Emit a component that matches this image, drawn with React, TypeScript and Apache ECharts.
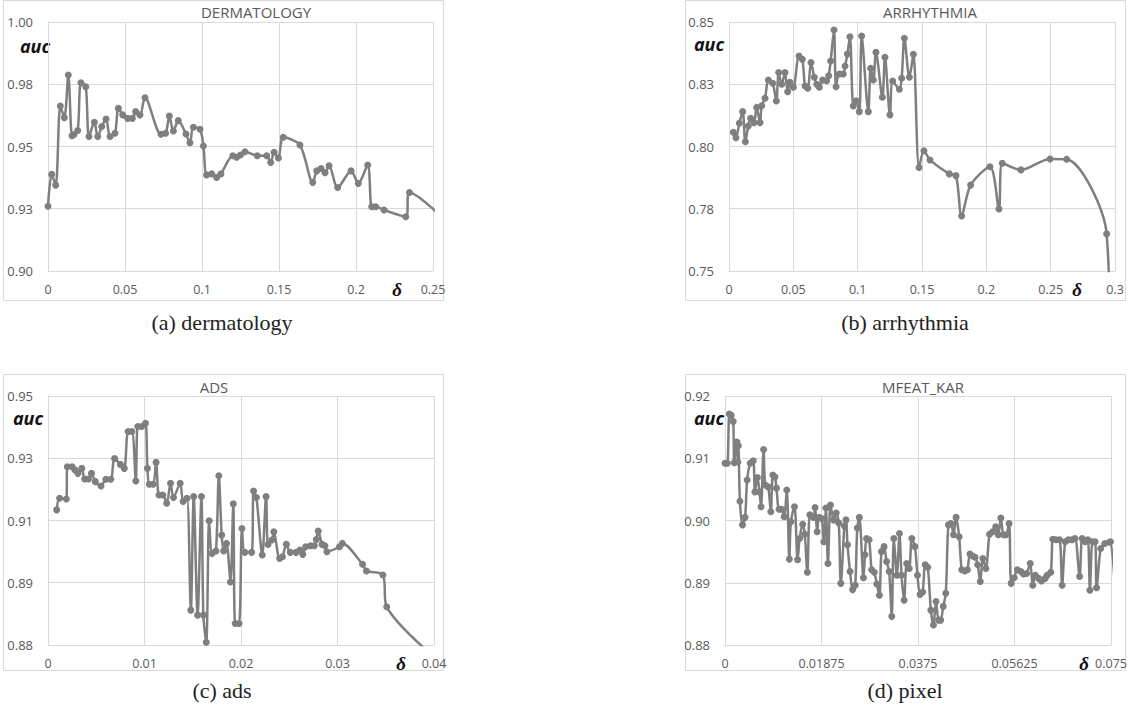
import { useEffect, useRef } from "react";
import * as echarts from "echarts";

// ---------- data: [delta, auc] ----------
const dermatology: [number, number][] = [
  [0, 0.926], [0.0024, 0.9388], [0.005, 0.9345], [0.008, 0.9663], [0.0106, 0.9616],
  [0.0132, 0.9787], [0.0156, 0.9543], [0.0169, 0.9548], [0.0193, 0.9564], [0.0214, 0.9756],
  [0.0245, 0.974], [0.0266, 0.954], [0.0301, 0.9597], [0.0323, 0.954], [0.0349, 0.958],
  [0.0377, 0.961], [0.0403, 0.954], [0.0435, 0.9553], [0.0457, 0.9653], [0.0485, 0.9627],
  [0.0517, 0.9613], [0.0548, 0.9613], [0.0569, 0.964], [0.0597, 0.9627], [0.063, 0.9696],
  [0.0734, 0.9549], [0.0764, 0.9553], [0.0788, 0.9622], [0.0814, 0.9562], [0.0846, 0.9604],
  [0.0896, 0.955], [0.0922, 0.9515], [0.0944, 0.9577], [0.0987, 0.9569], [0.1009, 0.9502],
  [0.103, 0.9386], [0.1063, 0.939], [0.1095, 0.9376], [0.1123, 0.939], [0.12, 0.9463],
  [0.1225, 0.9457], [0.125, 0.9466], [0.1279, 0.9479], [0.1359, 0.9463], [0.142, 0.9463],
  [0.1446, 0.9436], [0.1468, 0.9477], [0.1496, 0.9454], [0.1528, 0.9537], [0.1636, 0.9506],
  [0.1719, 0.9356], [0.1745, 0.9402], [0.1773, 0.9412], [0.1799, 0.9395], [0.1825, 0.9423],
  [0.1881, 0.9335], [0.1968, 0.9402], [0.2015, 0.9352], [0.2076, 0.9426], [0.2102, 0.9258],
  [0.2128, 0.9258], [0.2182, 0.9245], [0.2323, 0.9218], [0.2347, 0.9315], [0.262, 0.918],
];

const arrhythmia: [number, number][] = [
  [0.0034, 0.8057], [0.0054, 0.8035], [0.008, 0.8093], [0.0106, 0.814], [0.0127, 0.8019],
  [0.015, 0.8082], [0.0168, 0.8113], [0.0194, 0.8096], [0.0215, 0.8157], [0.0241, 0.8096],
  [0.0254, 0.8164], [0.028, 0.8194], [0.0306, 0.8267], [0.034, 0.8254], [0.0368, 0.8183],
  [0.0386, 0.8297], [0.041, 0.825], [0.0435, 0.8297], [0.0456, 0.822], [0.0474, 0.8258],
  [0.05, 0.8238], [0.0544, 0.8363], [0.057, 0.835], [0.0591, 0.8243], [0.0612, 0.8234],
  [0.0637, 0.8337], [0.0663, 0.8278], [0.0682, 0.825], [0.0702, 0.8238], [0.0728, 0.8267],
  [0.0759, 0.8264], [0.0775, 0.8284], [0.079, 0.8343], [0.0816, 0.8468], [0.0832, 0.824],
  [0.0857, 0.8291], [0.0888, 0.8291], [0.0902, 0.8323], [0.092, 0.8371], [0.094, 0.8441],
  [0.0966, 0.8163], [0.0988, 0.8184], [0.1013, 0.814], [0.1031, 0.8444], [0.1083, 0.814],
  [0.1101, 0.8314], [0.1122, 0.8267], [0.1142, 0.8378], [0.1192, 0.8198], [0.1212, 0.8358],
  [0.1251, 0.8127], [0.1272, 0.8263], [0.1324, 0.823], [0.1342, 0.8274], [0.1363, 0.8435],
  [0.1402, 0.8278], [0.1433, 0.837], [0.1477, 0.7916], [0.1515, 0.7983], [0.1562, 0.7946],
  [0.1712, 0.789], [0.1764, 0.7883], [0.1808, 0.7721], [0.1878, 0.7845], [0.2028, 0.7919],
  [0.2098, 0.7749], [0.2124, 0.7933], [0.2269, 0.7906], [0.2495, 0.795], [0.2624, 0.7949],
  [0.2935, 0.7649], [0.2965, 0.7],
];

const ads: [number, number][] = [
  [0.0009, 0.9157], [0.0012, 0.9192], [0.0019, 0.919], [0.002, 0.9287], [0.0025, 0.9287],
  [0.0028, 0.9277], [0.0031, 0.9267], [0.0035, 0.9282], [0.0038, 0.925], [0.0042, 0.925],
  [0.0045, 0.9267], [0.0049, 0.9242], [0.0055, 0.9229], [0.006, 0.9249], [0.0065, 0.9249],
  [0.0069, 0.9312], [0.0075, 0.9294], [0.0079, 0.9282], [0.0083, 0.9393], [0.0087, 0.9393],
  [0.0091, 0.9244], [0.0093, 0.9408], [0.0097, 0.9408], [0.0101, 0.9418], [0.0103, 0.9282],
  [0.0105, 0.9234], [0.0109, 0.9234], [0.0112, 0.93], [0.0115, 0.9202], [0.0119, 0.9202],
  [0.0123, 0.9177], [0.0127, 0.9237], [0.013, 0.9194], [0.0137, 0.9237], [0.014, 0.9182],
  [0.0144, 0.9192], [0.0148, 0.8855], [0.0151, 0.9197], [0.0155, 0.884], [0.0159, 0.9197],
  [0.0161, 0.884], [0.0164, 0.8758], [0.0167, 0.9124], [0.017, 0.9026], [0.0174, 0.9033],
  [0.0177, 0.926], [0.018, 0.9081], [0.0182, 0.9033], [0.0185, 0.9056], [0.0189, 0.894],
  [0.0192, 0.9175], [0.0194, 0.8815], [0.0198, 0.8815], [0.0201, 0.9101], [0.0204, 0.9029],
  [0.0211, 0.9029], [0.0213, 0.9214], [0.0216, 0.9194], [0.0222, 0.9021], [0.0226, 0.9197],
  [0.0228, 0.9053], [0.0232, 0.9066], [0.0234, 0.9091], [0.024, 0.9011], [0.0243, 0.9016],
  [0.0247, 0.9053], [0.0251, 0.9029], [0.0257, 0.9029], [0.0261, 0.9036], [0.0264, 0.9023],
  [0.0267, 0.9046], [0.0272, 0.9049], [0.0276, 0.9049], [0.0278, 0.9068], [0.028, 0.9093],
  [0.0284, 0.9053], [0.0287, 0.9049], [0.0289, 0.9031], [0.0302, 0.9046], [0.0305, 0.9056],
  [0.0326, 0.8993], [0.033, 0.8973], [0.0347, 0.8961], [0.0351, 0.8865], [0.042, 0.8665],
];

const pixel: [number, number][] = [
  [0, 0.9092], [0.00045, 0.9092], [0.00084, 0.9171], [0.0012, 0.9169], [0.0016, 0.9159],
  [0.0018, 0.9093], [0.0023, 0.9126], [0.0025, 0.9094], [0.0026, 0.912], [0.0029, 0.9031],
  [0.0034, 0.8993], [0.0039, 0.9005], [0.0043, 0.9065], [0.0049, 0.9092], [0.0055, 0.9096],
  [0.0058, 0.9046], [0.0063, 0.9069], [0.0067, 0.9046], [0.007, 0.9022], [0.0075, 0.9114],
  [0.0078, 0.9057], [0.0084, 0.9054], [0.0089, 0.9014], [0.0093, 0.9073], [0.0097, 0.907],
  [0.01, 0.9052], [0.0105, 0.9018], [0.011, 0.9018], [0.0115, 0.9006], [0.012, 0.9049],
  [0.0125, 0.8938], [0.0128, 0.8998], [0.0135, 0.9022], [0.0141, 0.8937], [0.0145, 0.8971],
  [0.0151, 0.8994], [0.0155, 0.8978], [0.016, 0.8917], [0.0165, 0.9009], [0.0172, 0.9005],
  [0.0175, 0.9021], [0.0179, 0.8982], [0.0183, 0.9005], [0.0188, 0.9003], [0.0192, 0.8966],
  [0.0196, 0.902], [0.02, 0.8931], [0.0205, 0.9025], [0.0211, 0.9001], [0.0216, 0.9012],
  [0.0221, 0.8996], [0.0225, 0.8899], [0.0232, 0.8991], [0.0235, 0.9001], [0.0238, 0.8961],
  [0.0243, 0.8918], [0.0248, 0.8889], [0.0253, 0.8896], [0.0257, 0.8988], [0.0261, 0.9005],
  [0.0269, 0.8908], [0.0272, 0.8945], [0.0275, 0.8971], [0.028, 0.8969], [0.0285, 0.8921],
  [0.029, 0.8917], [0.0295, 0.8898], [0.03, 0.888], [0.0304, 0.895], [0.0309, 0.8958],
  [0.0314, 0.8934], [0.0319, 0.8918], [0.0324, 0.8846], [0.0328, 0.8971], [0.0334, 0.8912],
  [0.0339, 0.8979], [0.0343, 0.8912], [0.0348, 0.8872], [0.0353, 0.8931], [0.0358, 0.8923],
  [0.0363, 0.8971], [0.0369, 0.8958], [0.0374, 0.8912], [0.0379, 0.8881], [0.0384, 0.8885],
  [0.0389, 0.8929], [0.0394, 0.8925], [0.04, 0.8856], [0.0405, 0.8832], [0.041, 0.887],
  [0.0415, 0.884], [0.0419, 0.884], [0.0424, 0.8862], [0.0429, 0.8883], [0.0434, 0.8993],
  [0.0439, 0.8995], [0.0444, 0.8977], [0.0449, 0.9005], [0.0455, 0.8974], [0.046, 0.8921],
  [0.0466, 0.8919], [0.0471, 0.8921], [0.0476, 0.8946], [0.0481, 0.8943], [0.0486, 0.8941],
  [0.0491, 0.8929], [0.0496, 0.8902], [0.0501, 0.8939], [0.0507, 0.8923], [0.0514, 0.8978],
  [0.052, 0.8982], [0.0526, 0.899], [0.0531, 0.8977], [0.0536, 0.9004], [0.0541, 0.8977],
  [0.0546, 0.8977], [0.0552, 0.8995], [0.0556, 0.8899], [0.0562, 0.8908], [0.0568, 0.8921],
  [0.0575, 0.8918], [0.058, 0.8914], [0.0586, 0.8915], [0.0593, 0.8931], [0.0598, 0.8896],
  [0.0603, 0.8912], [0.0609, 0.8907], [0.0615, 0.8903], [0.0622, 0.8907], [0.0626, 0.8912],
  [0.0633, 0.8917], [0.0637, 0.897], [0.0643, 0.8969], [0.065, 0.8969], [0.0655, 0.8896],
  [0.0661, 0.8966], [0.0667, 0.8969], [0.0674, 0.8969], [0.068, 0.8971], [0.0689, 0.891],
  [0.0694, 0.8971], [0.07, 0.8966], [0.0705, 0.8969], [0.0709, 0.8888], [0.0714, 0.8966],
  [0.0719, 0.8966], [0.0722, 0.8892], [0.073, 0.8955], [0.0738, 0.8963], [0.0747, 0.8965],
  [0.0749, 0.8966], [0.0758, 0.889],
];

const seriesData = [dermatology, arrhythmia, ads, pixel];
const panelTitles = ["DERMATOLOGY", "ARRHYTHMIA", "ADS", "MFEAT_KAR"];
const captions = ["(a) dermatology", "(b) arrhythmia", "(c) ads", "(d) pixel"];
// [min, max, interval]
const xScales: [number, number, number][] = [
  [0, 0.25, 0.05], [0, 0.3, 0.05], [0, 0.04, 0.01], [0, 0.075, 0.01875],
];
const yScales: [number, number, number][] = [
  [0.9, 1.0, 0.025], [0.75, 0.85, 0.025], [0.875, 0.95, 0.01875], [0.88, 0.92, 0.01],
];
const yLabelName = "auc";
const xLabelName = "δ";

export default function App() {
  const ref = useRef<HTMLDivElement>(null);

  useEffect(() => {
    if (!ref.current) return;
    const chart = echarts.init(ref.current, undefined, { renderer: "svg" });

    const grids = [
      { left: 48, top: 22, width: 385, height: 249 },
      { left: 729, top: 22, width: 386, height: 249 },
      { left: 48, top: 396, width: 386, height: 249 },
      { left: 725, top: 396, width: 386, height: 249 },
    ];
    const frames = [
      { x: 3.5, y: 0.5, w: 440, h: 300 },
      { x: 685.5, y: 0.5, w: 440, h: 300 },
      { x: 3.5, y: 374.5, w: 440, h: 296 },
      { x: 685.5, y: 374.5, w: 440, h: 296 },
    ];
    const titlePos = [[256, 12], [930, 12], [214, 387], [923, 387]];
    const aucPos = [[35, 46], [709, 44], [28, 418], [709, 418]];
    const deltaPos = [[397, 289], [1077, 289], [401, 663], [1084, 663]];
    const captionPos = [[222, 322], [905, 322], [222, 690], [905, 690]];

    const gridColor = "#d9d9d9";
    const labelColor = "#595959";
    const lineColor = "#7f7f7f";
    const font = "'Open Sans', 'DejaVu Sans', sans-serif";
    const serif = "'Liberation Serif', 'DejaVu Serif', serif";

    const graphic: any[] = [];
    frames.forEach((f) => {
      graphic.push({
        type: "rect",
        silent: true,
        z: -1,
        shape: { x: f.x, y: f.y, width: f.w, height: f.h },
        style: { fill: "none", stroke: gridColor, lineWidth: 1 },
      });
    });
    const txt = (text: string, p: number[], size: number, fam: string, color: string, weight = "normal", fstyle = "normal") => ({
      type: "text",
      silent: true,
      x: p[0],
      y: p[1],
      style: {
        text,
        fill: color,
        fontSize: size,
        fontFamily: fam,
        fontWeight: weight,
        fontStyle: fstyle,
        textAlign: "center",
        textVerticalAlign: "middle",
        align: "center",
        verticalAlign: "middle",
      },
    });
    for (let i = 0; i < 4; i++) {
      graphic.push(txt(panelTitles[i], titlePos[i], 15, font, labelColor));
      graphic.push(txt(yLabelName, aucPos[i], 18, font, "#111111", "bold", "italic"));
      graphic.push(txt(xLabelName, deltaPos[i], 19, serif, "#111111", "bold", "italic"));
      graphic.push(txt(captions[i], captionPos[i], 22, serif, "#222222"));
    }

    const option: any = {
      animation: false,
      grid: grids.map((g) => ({ ...g, containLabel: false })),
      xAxis: xScales.map((s, i) => ({
        type: "value",
        gridIndex: i,
        min: s[0],
        max: s[1],
        interval: s[2],
        axisLine: { show: true, lineStyle: { color: gridColor, width: 1 } },
        axisTick: { show: false },
        splitLine: { show: true, lineStyle: { color: gridColor, width: 1 } },
        axisLabel: {
          color: labelColor,
          fontSize: 12.5,
          fontFamily: font,
          margin: 12,
          formatter: (v: number) => String(parseFloat(v.toFixed(6))),
        },
      })),
      yAxis: yScales.map((s, i) => ({
        type: "value",
        gridIndex: i,
        min: s[0],
        max: s[1],
        interval: s[2],
        axisLine: { show: true, lineStyle: { color: gridColor, width: 1 } },
        axisTick: { show: false },
        splitLine: { show: true, lineStyle: { color: gridColor, width: 1 } },
        axisLabel: {
          color: labelColor,
          fontSize: 13,
          fontFamily: font,
          margin: 15,
          formatter: (v: number) => (Math.round(v * 100 + 1e-6) / 100).toFixed(2),
        },
      })),
      series: seriesData.map((d, i) => ({
        type: "line",
        xAxisIndex: i,
        yAxisIndex: i,
        data: d,
        smooth: 0.3,
        clip: true,
        symbol: "circle",
        symbolSize: 7,
        silent: true,
        lineStyle: { color: lineColor, width: 2.5 },
        itemStyle: { color: lineColor },
      })),
      graphic,
    };

    chart.setOption(option);
    return () => chart.dispose();
  }, []);

  return (
    <div
      ref={ref}
      style={{ position: "absolute", left: 0, top: 0, width: 1132, height: 722, background: "#ffffff" }}
    />
  );
}
